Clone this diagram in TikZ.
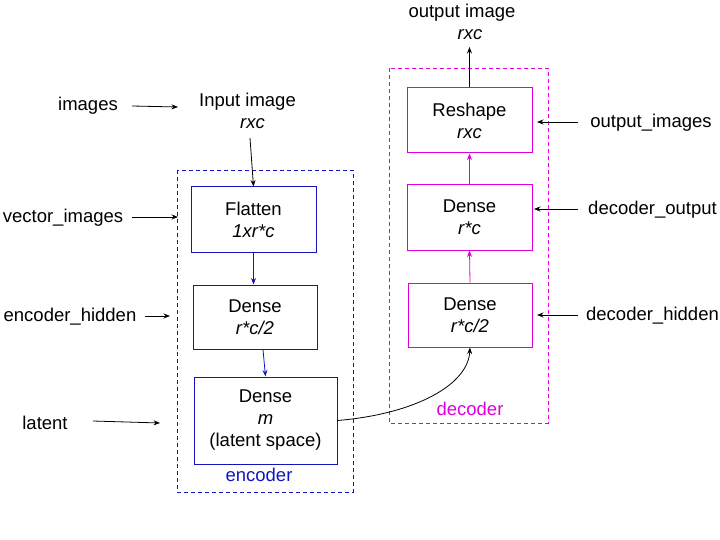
\documentclass[tikz,border=0pt]{standalone}
\usepackage{fontspec}
\setmainfont{Liberation Sans}
\usetikzlibrary{arrows.meta}
\definecolor{encblue}{RGB}{20,20,190}
\definecolor{decmag}{RGB}{221,0,221}
\begin{document}
\begin{tikzpicture}[x=1pt,y=-1pt,
  every node/.style={font=\fontsize{18.5}{22}\selectfont, inner sep=0pt, align=center},
  ebox/.style={draw=encblue, line width=1pt, rectangle},
  dbox/.style={draw=decmag, line width=1pt, rectangle},
  arr/.style={-{Stealth[length=6.5pt,width=5pt]}, line width=0.8pt},
  dashbox/.style={line width=0.85pt, dash pattern=on 4pt off 3pt}
]
\useasboundingbox (0,0) rectangle (720,540);

% encoder
\coordinate (encNW) at (177,170);
\coordinate (encSE) at (353,492);
\draw[dashbox, encblue] (encNW) rectangle (encSE);
\node[ebox, minimum width=125pt, minimum height=65pt] (flat) at (253.5,219.5) {Flatten\\\textit{1xr*c}};
\node[ebox, minimum width=124pt, minimum height=64pt] (d2) at (255,317) {Dense\\\textit{r*c/2}};
\node[ebox, minimum width=143pt, minimum height=87pt] (lat) at (265.5,420.5) {Dense\\\textit{m}\\(latent space)};
\node[text=encblue] (enct) at (259,475) {encoder};

\node (inp1) at (247.5,102) {Input image};
\node (inp2) at (252.5,124) {\textit{rxc}};
\coordinate (inpS) at (250,138);

\draw[arr] (inpS) -- (flat.north);
\draw[arr, draw=encblue] (flat.south) -- (d2.north -| flat.south);
\draw[arr, draw=encblue] ([xshift=8pt]d2.south) -- (lat.north);

% decoder
\coordinate (decNW) at (389,68);
\coordinate (decSE) at (548,423);
\draw[dashbox, decmag] (decNW) rectangle (decSE);
\node[dbox, minimum width=125pt, minimum height=65pt] (resh) at (469.5,120.5) {Reshape\\\textit{rxc}};
\node[dbox, minimum width=125pt, minimum height=65pt] (dout) at (469.5,217.5) {Dense\\\textit{r*c}};
\node[dbox, minimum width=124pt, minimum height=64pt] (dh) at (470,315) {Dense\\\textit{r*c/2}};
\node[text=decmag] (dect) at (470,409) {decoder};

\node (out1) at (462,13) {output image};
\node (out2) at (470,35) {\textit{rxc}};
\coordinate (outS) at (469.5,47);

\draw[arr] (resh.north) -- (outS);
\draw[arr, draw=decmag] (dout.north) -- (resh.south);
\draw[arr, draw=decmag] (dh.north) -- (dout.south);

\draw[arr] (lat.east) .. controls (415,414) and (468,385) .. (dh.south);

% left labels
\node (limg) at (88,106) {images};
\node (lvec) at (63,218) {vector\_images};
\node (lenc) at (70,317) {encoder\_hidden};
\node (llat) at (45,423) {latent};
\coordinate (aimg) at (178,107);
\coordinate (avec) at (178,217);
\coordinate (aenc) at (170,316);
\coordinate (alat) at (160,423);
\draw[arr] (132,106) -- (aimg);
\draw[arr] ([xshift=9pt]lvec.east |- avec) -- (avec);
\draw[arr] ([xshift=8pt]lenc.east |- aenc) -- (aenc);
\draw[arr] (93,421) -- (alat);

% right labels
\node (routi) at (651,123) {output\_images};
\node (rdo) at (652.5,210) {decoder\_output};
\node (rdh) at (652.5,316) {decoder\_hidden};
\coordinate (aoi) at (537,122);
\coordinate (ado) at (534,209);
\coordinate (adh) at (537,315);
\draw[arr] ([xshift=-12pt]routi.west |- aoi) -- (aoi);
\draw[arr] ([xshift=-10pt]rdo.west |- ado) -- (ado);
\draw[arr] ([xshift=-8pt]rdh.west |- adh) -- (adh);
\end{tikzpicture}
\end{document}
